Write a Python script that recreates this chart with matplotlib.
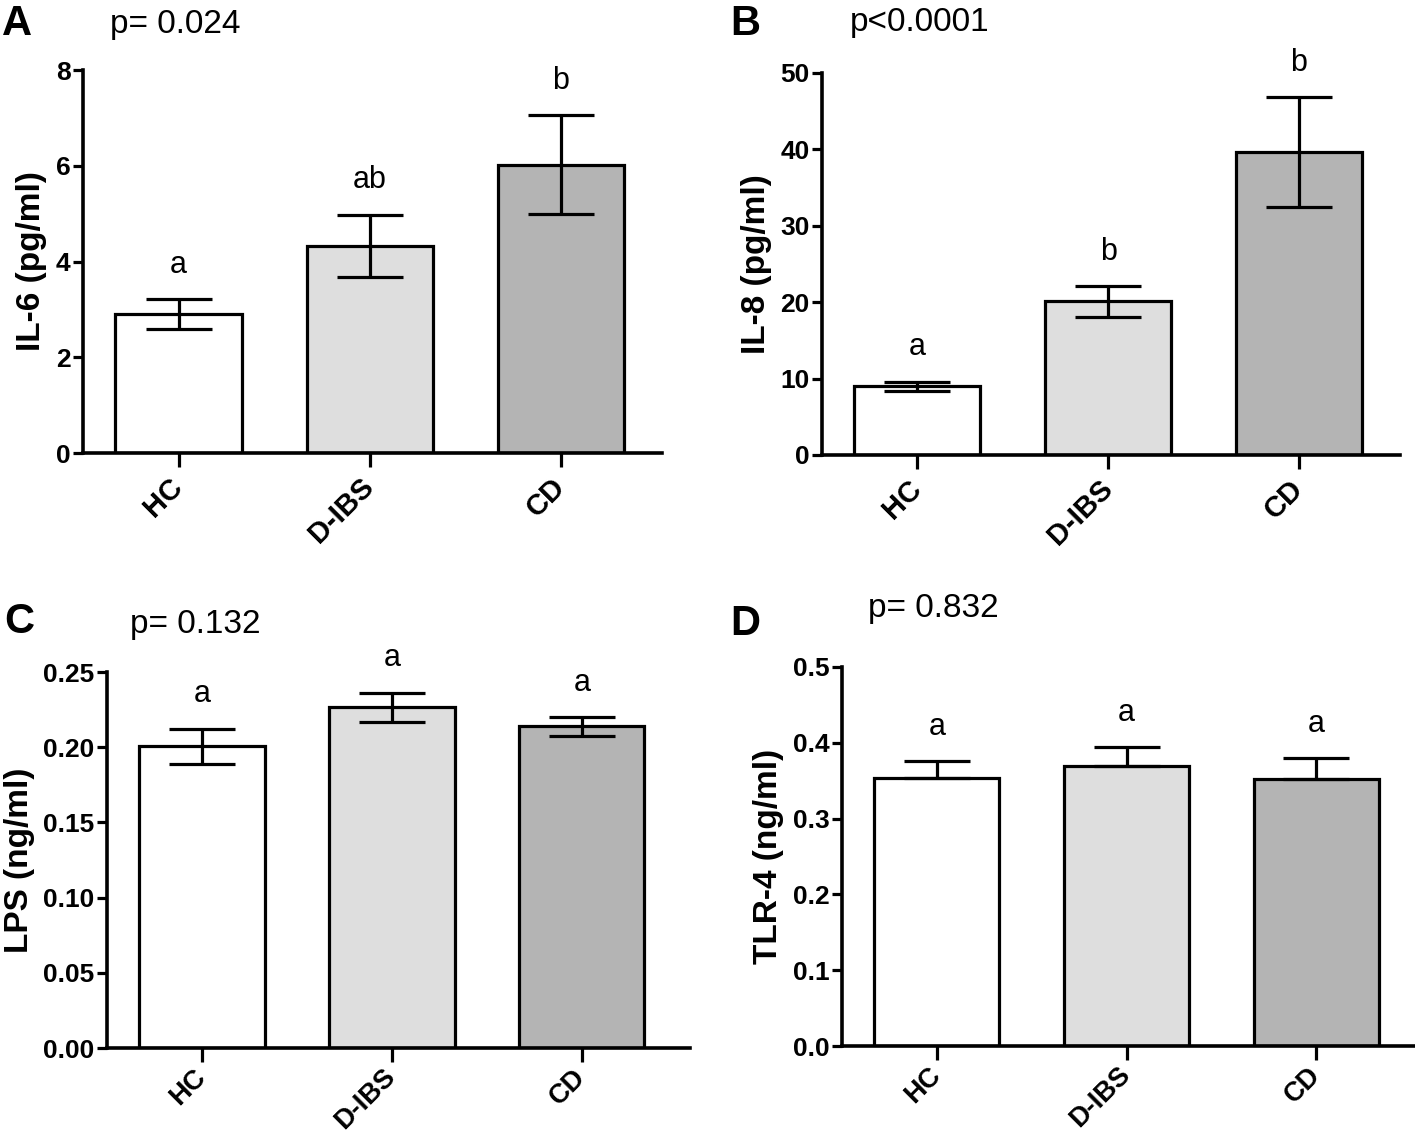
import matplotlib
matplotlib.use("Agg")
import matplotlib.pyplot as plt

plt.rcParams['font.family'] = ['Liberation Sans', 'DejaVu Sans']

groups = ["HC", "D-IBS", "CD"]
bar_colors = ["#ffffff", "#dedede", "#b4b4b4"]

il6_mean = [2.90, 4.33, 6.02]
il6_sem = [0.31, 0.65, 1.03]
il8_mean = [9.0, 20.1, 39.6]
il8_sem = [0.6, 2.0, 7.2]
lps_mean = [0.2005, 0.2266, 0.2138]
lps_sem = [0.0117, 0.0096, 0.0061]
tlr4_mean = [0.354, 0.370, 0.352]
tlr4_sem = [0.022, 0.024, 0.028]

letters_a = ["a", "ab", "b"]
letters_b = ["a", "b", "b"]
letters_c = ["a", "a", "a"]
letters_d = ["a", "a", "a"]

W, H = 1415, 1138
fig = plt.figure(figsize=(W / 100, H / 100), dpi=100)


def px_axes(left, right, top, bottom):
    return fig.add_axes([left / W, 1 - bottom / H, (right - left) / W, (bottom - top) / H])


def panel(ax, means, sems, letters, ylabel, ymax, yticks, fmt, upper_only=False, xr=2.53,
          xfs=21, xpad=11):
    x = range(len(groups))
    ax.bar(x, means, width=0.66, color=bar_colors, edgecolor="black", linewidth=2.3, zorder=2)
    lower = [0] * len(sems) if upper_only else sems
    ax.errorbar(x, means, yerr=[lower, sems], fmt="none", ecolor="black",
                elinewidth=2.3, capsize=24, capthick=2.3, zorder=3)
    for i, lab in enumerate(letters):
        ax.annotate(lab, (i, means[i] + sems[i]), xytext=(0, 19), textcoords="offset points",
                    ha="center", va="baseline", fontsize=22)
    ax.set_xlim(-0.5, xr)
    ax.set_ylim(0, ymax)
    ax.set_yticks(yticks)
    ax.set_yticklabels([fmt.format(v) for v in yticks], fontsize=19, fontweight="bold")
    ax.set_xticks(list(x))
    ax.set_xticklabels(groups, fontsize=xfs, fontweight="bold", rotation=45,
                       ha="right", va="center", rotation_mode="anchor")
    ax.set_ylabel(ylabel, fontsize=24, fontweight="bold", labelpad=6)
    for s in ["top", "right"]:
        ax.spines[s].set_visible(False)
    for s in ["left", "bottom"]:
        ax.spines[s].set_linewidth(2.6)
    ax.spines["left"].set_bounds(0, ymax)
    ax.tick_params(axis="y", length=7, width=2.3, pad=2)
    ax.tick_params(axis="x", length=10, width=2.3, pad=xpad)
    ax.set_facecolor("none")


axA = px_axes(83, 662, 70, 453)
panel(axA, il6_mean, il6_sem, letters_a, "IL-6 (pg/ml)", 8, [0, 2, 4, 6, 8], "{:.0f}")
axB = px_axes(822, 1400, 73, 455)
panel(axB, il8_mean, il8_sem, letters_b, "IL-8 (pg/ml)", 50, [0, 10, 20, 30, 40, 50], "{:.0f}")
axC = px_axes(107, 690, 672, 1048)
panel(axC, lps_mean, lps_sem, letters_c, "LPS (ng/ml)", 0.25,
      [0, 0.05, 0.10, 0.15, 0.20, 0.25], "{:.2f}", xr=2.57, xfs=19.5, xpad=8)
axD = px_axes(842, 1415, 667, 1046)
panel(axD, tlr4_mean, tlr4_sem, letters_d, "TLR-4 (ng/ml)", 0.5,
      [0, 0.1, 0.2, 0.3, 0.4, 0.5], "{:.1f}", upper_only=True, xr=2.52, xfs=19.5, xpad=8)


def ftext(x, y, s, **kw):
    fig.text(x / W, 1 - y / H, s, va="baseline", ha="left", **kw)


for lx, ly, lab in [(2, 35, "A"), (730, 35, "B"), (4, 633, "C"), (730, 635, "D")]:
    ftext(lx, ly, lab, fontsize=30, fontweight="bold")
for px, py, lab in [(110, 33, "p= 0.024"), (850, 31, "p<0.0001"),
                    (130, 633, "p= 0.132"), (868, 617, "p= 0.832")]:
    ftext(px, py, lab, fontsize=24)

fig.savefig("out.png", dpi=100)
